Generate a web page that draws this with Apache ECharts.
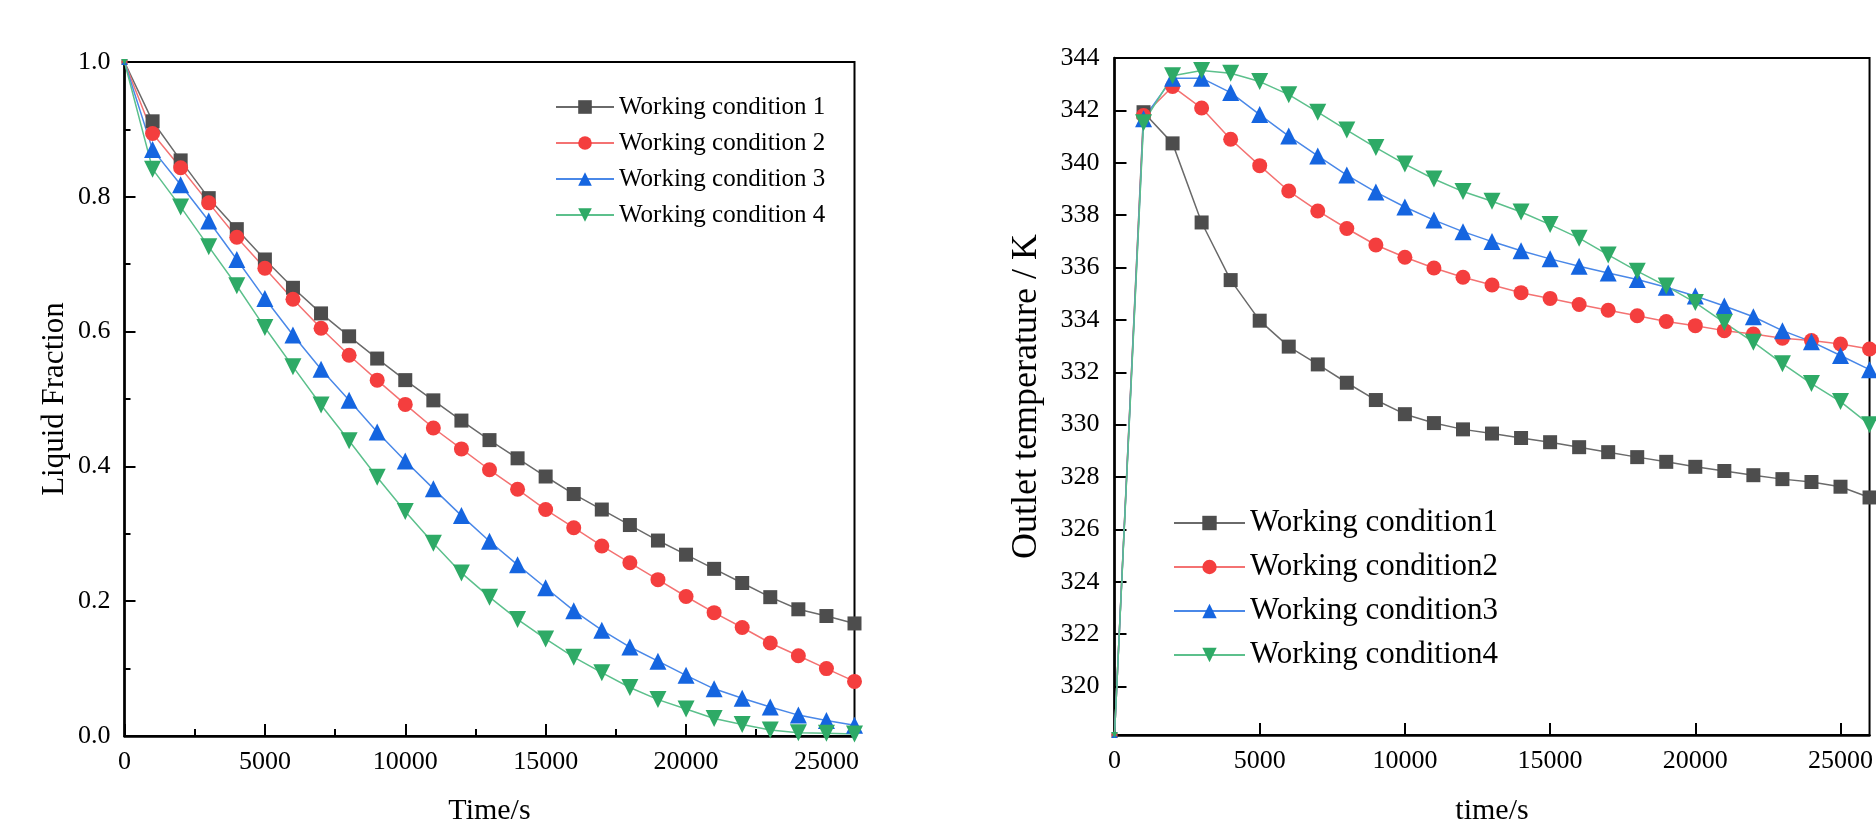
<!DOCTYPE html>
<html>
<head>
<meta charset="utf-8">
<script src="https://cdn.jsdelivr.net/npm/echarts@6/dist/echarts.min.js"></script>
<style>
html,body{margin:0;padding:0;background:#fff;}
#c{width:1876px;height:831px;}
</style>
</head>
<body>
<div id="c"></div>
<script>
// ---- data ----
const times = [0,1000,2000,3000,4000,5000,6000,7000,8000,9000,10000,11000,12000,13000,14000,15000,16000,17000,18000,19000,20000,21000,22000,23000,24000,25000,26000];

const namesLeft = ['Working condition 1','Working condition 2','Working condition 3','Working condition 4'];
const namesRight = ['Working condition1','Working condition2','Working condition3','Working condition4'];

const liquid1 = [1.0,0.912,0.854,0.798,0.752,0.707,0.665,0.627,0.593,0.560,0.528,0.498,0.468,0.439,0.412,0.385,0.359,0.336,0.313,0.290,0.269,0.248,0.227,0.206,0.188,0.178,0.167];
const liquid2 = [1.0,0.894,0.843,0.791,0.740,0.694,0.648,0.605,0.565,0.528,0.492,0.457,0.426,0.395,0.366,0.336,0.309,0.282,0.257,0.232,0.207,0.183,0.161,0.138,0.119,0.100,0.081];
const liquid3 = [1.0,0.870,0.818,0.764,0.707,0.649,0.595,0.544,0.498,0.451,0.408,0.367,0.327,0.289,0.254,0.220,0.186,0.157,0.132,0.111,0.090,0.070,0.056,0.043,0.031,0.023,0.016];
const liquid4 = [1.0,0.841,0.785,0.726,0.668,0.606,0.548,0.491,0.438,0.384,0.333,0.286,0.242,0.206,0.173,0.144,0.117,0.094,0.072,0.054,0.040,0.026,0.017,0.009,0.005,0.004,0.003];

const temp1 = [318.15,341.93,340.74,337.72,335.52,333.97,332.98,332.30,331.60,330.94,330.40,330.06,329.82,329.66,329.49,329.33,329.14,328.95,328.76,328.58,328.39,328.23,328.07,327.92,327.81,327.63,327.22];
const temp2 = [318.15,341.80,342.91,342.09,340.90,339.89,338.92,338.16,337.49,336.86,336.39,335.98,335.63,335.33,335.04,334.82,334.59,334.37,334.16,333.94,333.78,333.59,333.46,333.30,333.21,333.08,332.89];
const temp3 = [318.15,341.68,343.23,343.23,342.68,341.84,341.02,340.26,339.53,338.88,338.31,337.81,337.37,336.99,336.64,336.33,336.05,335.79,335.54,335.25,334.91,334.53,334.12,333.59,333.17,332.64,332.10];
const temp4 = [318.15,341.53,343.32,343.52,343.42,343.10,342.60,341.93,341.25,340.58,339.95,339.38,338.90,338.53,338.12,337.64,337.12,336.48,335.86,335.29,334.66,333.90,333.15,332.33,331.57,330.88,330.00];

const timeTicks = [0,5000,10000,15000,20000,25000];
const timeMinorTicks = [2500,7500,12500,17500,22500];
const tempTicks = [320,322,324,326,328,330,332,334,336,338,340,342,344];

// ---- styles ----
const FONT = 'Liberation Serif';
const markerColors = ['#4d4d4d','#f43e3e','#1565e0','#2eaa66'];
const lineColors = ['#6a6a6a','#f47272','#4a88e8','#5cc08c'];
const symbols = ['rect','circle','triangle','triangle'];
const rotations = [0,0,0,180];
const sizes = [14,15,17,17];

function pairs(vals){
  return vals.map((v,i)=> i===0 ? {value:[times[i],v], symbolSize:6} : [times[i],v]);
}
function mkSeries(name, vals, idx, axisIdx){
  return {
    name: name, type:'line', xAxisIndex: axisIdx, yAxisIndex: axisIdx === 0 ? 0 : 1,
    data: pairs(vals),
    symbol: symbols[idx], symbolRotate: rotations[idx], symbolSize: sizes[idx],
    itemStyle:{color: markerColors[idx]},
    lineStyle:{color: lineColors[idx], width:1.5},
    emphasis:{disabled:true},
    animation:false
  };
}

const plain = (v)=> String(v);

const axisCommon = {
  axisLine:{show:true, onZero:false, lineStyle:{color:'#000', width:2.5}},
  splitLine:{show:false},
  nameTextStyle:{fontFamily:FONT, color:'#000'}
};

const chart = echarts.init(document.getElementById('c'));
chart.setOption({
  backgroundColor:'#fff',
  animation:false,
  grid:[
    {left:124.5, top:62, right:1021.5, bottom:88, show:true, borderColor:'#000', borderWidth:2, backgroundColor:'transparent'},
    {left:1114.5, top:58, right:-3, bottom:89.5, show:true, borderColor:'#000', borderWidth:2, backgroundColor:'transparent'}
  ],
  legend:[
    {data:namesLeft, orient:'vertical', left:550, top:84, itemWidth:58, itemHeight:17, itemGap:0,
     textStyle:{fontFamily:FONT, fontSize:25, color:'#000', lineHeight:36}},
    {data:namesRight, orient:'vertical', left:1168, top:496, itemWidth:71, itemHeight:18, itemGap:0,
     textStyle:{fontFamily:FONT, fontSize:31, color:'#000', lineHeight:44}}
  ],
  xAxis:[
    Object.assign({}, axisCommon, {
      gridIndex:0, type:'value', min:0, max:26000, position:'bottom',
      name:'Time/s', nameLocation:'middle', nameGap:60,
      nameTextStyle:{fontFamily:FONT, fontSize:30, color:'#000'},
      axisTick:{show:true, inside:true, length:12, lineStyle:{color:'#000', width:2}, customValues:timeTicks},
      axisLabel:{fontFamily:FONT, fontSize:26, color:'#000', margin:13, customValues:timeTicks, formatter:plain}
    }),
    Object.assign({}, axisCommon, {
      gridIndex:1, type:'value', min:0, max:26000, position:'bottom',
      name:'time/s', nameLocation:'middle', nameGap:61,
      nameTextStyle:{fontFamily:FONT, fontSize:30, color:'#000'},
      axisTick:{show:true, inside:true, length:12, lineStyle:{color:'#000', width:2}, customValues:timeTicks},
      axisLabel:{fontFamily:FONT, fontSize:26, color:'#000', margin:13, customValues:timeTicks, formatter:plain}
    }),
    {
      gridIndex:0, type:'value', min:0, max:26000, position:'bottom', offset:0,
      axisLine:{show:false}, splitLine:{show:false}, axisLabel:{show:false},
      axisTick:{show:true, inside:true, length:7, lineStyle:{color:'#000', width:2}, customValues:timeMinorTicks}
    }
  ],
  yAxis:[
    Object.assign({}, axisCommon, {
      gridIndex:0, type:'value', min:0, max:1, interval:0.2,
      name:'Liquid Fraction', nameLocation:'middle', nameGap:54,
      nameTextStyle:{fontFamily:FONT, fontSize:31, color:'#000'},
      axisTick:{show:true, inside:true, length:11, lineStyle:{color:'#000', width:2}},
      minorTick:{show:true, splitNumber:2, length:6, lineStyle:{color:'#000', width:2}},
      axisLabel:{fontFamily:FONT, fontSize:26, color:'#000', margin:14, formatter:(v)=>v.toFixed(1)}
    }),
    Object.assign({}, axisCommon, {
      gridIndex:1, type:'value', min:318.15, max:344,
      name:'Outlet temperature / K', nameLocation:'middle', nameGap:70,
      nameTextStyle:{fontFamily:FONT, fontSize:36, color:'#000'},
      axisTick:{show:true, inside:true, length:12, lineStyle:{color:'#000', width:2}, customValues:tempTicks},
      axisLabel:{fontFamily:FONT, fontSize:26, color:'#000', margin:15, customValues:tempTicks, formatter:plain}
    })
  ],
  series:[
    mkSeries(namesLeft[0], liquid1, 0, 0),
    mkSeries(namesLeft[1], liquid2, 1, 0),
    mkSeries(namesLeft[2], liquid3, 2, 0),
    mkSeries(namesLeft[3], liquid4, 3, 0),
    mkSeries(namesRight[0], temp1, 0, 1),
    mkSeries(namesRight[1], temp2, 1, 1),
    mkSeries(namesRight[2], temp3, 2, 1),
    mkSeries(namesRight[3], temp4, 3, 1)
  ]
});
</script>
</body>
</html>
